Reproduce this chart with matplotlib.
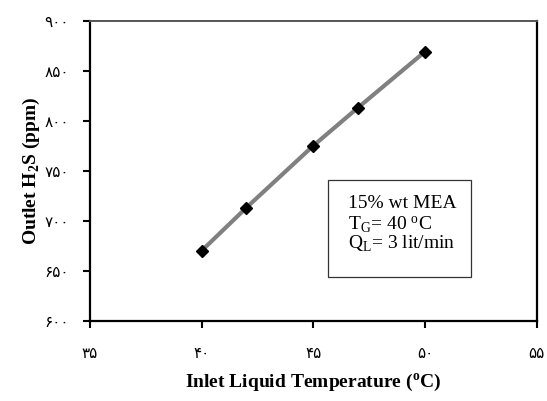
import matplotlib
matplotlib.use('Agg')
import matplotlib.pyplot as plt
from matplotlib.patches import Rectangle

# data
temp_in = [40, 42, 45, 47, 50]
h2s_out = [670, 713, 775, 813, 869]

x_ticks = [35, 40, 45, 50, 55]
y_ticks = [600, 650, 700, 750, 800, 850, 900]

fa_digits = str.maketrans('0123456789', '۰۱۲۳۴۵۶۷۸۹')

def fa(n):
	return str(n).translate(fa_digits)

x_labels = [fa(v) for v in x_ticks]
y_labels = [fa(v) for v in y_ticks]

plt.rcParams['font.family'] = ['Liberation Serif', 'DejaVu Sans']
plt.rcParams['mathtext.fontset'] = 'custom'
plt.rcParams['mathtext.rm'] = 'Liberation Serif'
plt.rcParams['mathtext.bf'] = 'Liberation Serif:bold'

fig = plt.figure(figsize=(5.47, 4.01), dpi=100)
ax = fig.add_axes([0.1645, 0.2, 0.8165, 0.7485])

ax.plot(temp_in, h2s_out, color='#808080', lw=3, zorder=2)
ax.plot(temp_in, h2s_out, ls='none', marker='D', ms=6.5, color='black', zorder=3)

ax.set_xlim(35, 55)
ax.set_ylim(600, 900)
ax.set_xticks(x_ticks)
ax.set_xticklabels(x_labels, fontsize=11, family=['DejaVu Sans'])
ax.set_yticks(y_ticks)
ax.set_yticklabels(y_labels, fontsize=11, family=['DejaVu Sans'])

ax.tick_params(axis='x', direction='out', length=5, width=1.5, pad=13)
ax.tick_params(axis='y', direction='out', length=5, width=1.5, pad=10)

for s in ['left', 'bottom', 'right']:
	ax.spines[s].set_linewidth(1.6)
	ax.spines[s].set_color('black')
ax.spines['top'].set_linewidth(1.4)
ax.spines['top'].set_color('#555555')

ax.set_xlabel('Inlet Liquid Temperature ($\\mathregular{^o}$C)', fontsize=14, fontweight='bold', labelpad=8)
ax.set_ylabel('Outlet H$_\\mathbf{2}$S (ppm)', fontsize=14, fontweight='bold', labelpad=2)

# info box
ax.add_patch(Rectangle((0.532, 0.145), 0.322, 0.323, transform=ax.transAxes,
	fill=False, edgecolor='#333333', lw=0.9, zorder=4))
ax.text(0.578, 0.392, '15% wt MEA', transform=ax.transAxes, fontsize=14, va='center')
ax.text(0.578, 0.322, 'T$_\\mathregular{G}$= 40 $\\mathregular{^o}$C', transform=ax.transAxes, fontsize=14, va='center')
ax.text(0.578, 0.256, 'Q$_\\mathregular{L}$= 3 lit/min', transform=ax.transAxes, fontsize=14, va='center')

plt.savefig('out.png', dpi=100)
